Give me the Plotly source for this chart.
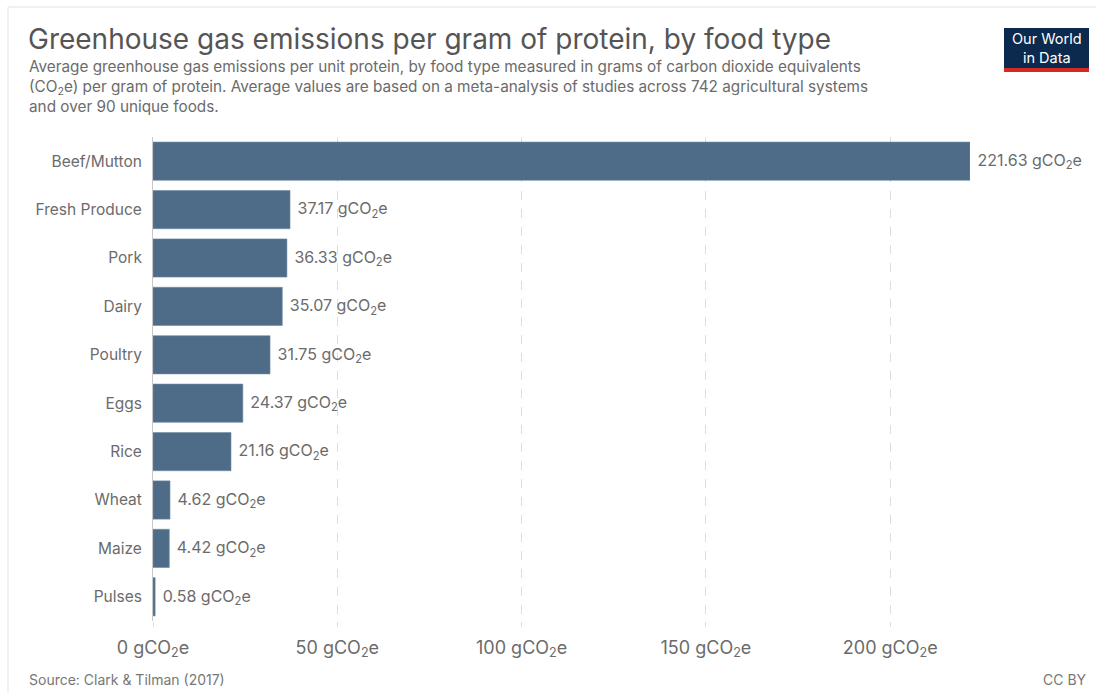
import plotly.graph_objects as go

# Emissions per gram of protein (gCO2e), by food type
foods = ["Beef/Mutton", "Fresh Produce", "Pork", "Dairy", "Poultry",
         "Eggs", "Rice", "Wheat", "Maize", "Pulses"]
emissions = [221.63, 37.17, 36.33, 35.07, 31.75, 24.37, 21.16, 4.62, 4.42, 0.58]
tick_values = [0, 50, 100, 150, 200]
tick_labels = [f"{v} gCO<sub>2</sub>e" for v in tick_values]

title = "Greenhouse gas emissions per gram of protein, by food type"
subtitle_lines = [
    "Average greenhouse gas emissions per unit protein, by food type measured in grams of carbon dioxide equivalents",
    "(CO<sub>2</sub>e) per gram of protein. Average values are based on a meta-analysis of studies across 742 agricultural systems",
    "and over 90 unique foods.",
]

W, H = 1096, 693
ML, MR, MT, MB = 153, 126, 137, 72
PW, PH = W - ML - MR, H - MT - MB


def px(x):
    return (x - ML) / PW


def py(y):
    return (H - MB - y) / PH


FONT = "Inter, Liberation Sans, Arial, sans-serif"
GREY = "#6b6b6b"

fig = go.Figure(go.Bar(
    x=emissions,
    y=foods,
    orientation="h",
    marker=dict(color="#4e6c88", line=dict(color="#6f8ba4", width=0.6)),
    text=[f"\u00a0{v:.2f} gCO<sub>2</sub>e" for v in emissions],
    textposition="outside",
    textfont=dict(family=FONT, size=16, color=GREY),
    cliponaxis=False,
    hoverinfo="skip",
))

fig.update_layout(
    width=W, height=H,
    margin=dict(l=ML, r=MR, t=MT, b=MB),
    paper_bgcolor="white",
    plot_bgcolor="white",
    bargap=0.21,
    showlegend=False,
    font=dict(family=FONT, color=GREY),
    xaxis=dict(
        range=[0, max(emissions)],
        tickvals=tick_values,
        ticktext=tick_labels,
        tickfont=dict(family=FONT, size=18, color=GREY),
        showgrid=True,
        gridcolor="#dddddd",
        griddash="dash",
        gridwidth=1,
        zeroline=False,
        ticks="outside",
        ticklen=5,
        tickcolor="#dddddd",
        ticklabelstandoff=5,
        fixedrange=True,
    ),
    yaxis=dict(
        autorange="reversed",
        tickfont=dict(family=FONT, size=15.5, color=GREY),
        showline=True,
        linecolor="#c8c8c8",
        linewidth=1,
        ticks="",
        ticklabelstandoff=7,
        fixedrange=True,
    ),
)

# Outer frame
fig.add_shape(type="rect", xref="paper", yref="paper",
              x0=px(8), x1=px(1110), y0=py(710), y1=py(7),
              line=dict(color="#e3e3e3", width=1), fillcolor="rgba(0,0,0,0)",
              layer="below")

# Title and subtitle
fig.add_annotation(xref="paper", yref="paper", x=px(26), y=py(39),
                   xanchor="left", yanchor="middle", showarrow=False, align="left",
                   text=title,
                   font=dict(family=FONT, size=28, color="#555555"))
fig.add_annotation(xref="paper", yref="paper", x=px(27), y=py(86),
                   xanchor="left", yanchor="middle", showarrow=False, align="left",
                   text="<br>".join(subtitle_lines),
                   font=dict(family=FONT, size=15.3, color="#6b6b6b"))

# Logo
fig.add_shape(type="rect", xref="paper", yref="paper",
              x0=px(1004), x1=px(1089), y0=py(68), y1=py(28),
              fillcolor="#0c2a4d", line=dict(width=0))
fig.add_shape(type="rect", xref="paper", yref="paper",
              x0=px(1004), x1=px(1089), y0=py(72), y1=py(68),
              fillcolor="#d42b21", line=dict(width=0))
fig.add_annotation(xref="paper", yref="paper", x=px(1046.5), y=py(48),
                   xanchor="center", yanchor="middle", showarrow=False,
                   text="Our World<br>in Data",
                   font=dict(family=FONT, size=14.5, color="white"))

# Footer
fig.add_annotation(xref="paper", yref="paper", x=px(27), y=py(679),
                   xanchor="left", yanchor="middle", showarrow=False,
                   text="Source: Clark &amp; Tilman (2017)",
                   font=dict(family=FONT, size=14, color="#777777"))
fig.add_annotation(xref="paper", yref="paper", x=px(1089), y=py(679),
                   xanchor="right", yanchor="middle", showarrow=False,
                   text="CC BY",
                   font=dict(family=FONT, size=14, color="#777777"))

fig.write_html("out.html")
